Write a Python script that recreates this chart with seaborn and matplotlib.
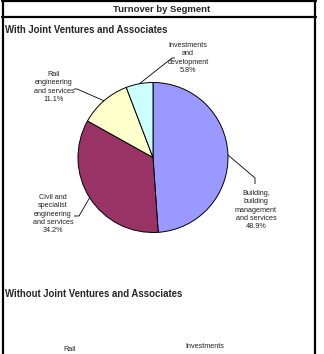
import numpy as np
import matplotlib
matplotlib.use("Agg")
import matplotlib.pyplot as plt
from matplotlib.lines import Line2D
import seaborn as sns

# ---- data ----
segments = ["Building,\nbuilding\nmanagement\nand services",
            "Civil and\nspecialist\nengineering\nand services",
            "Rail\nengineering\nand services",
            "Investments\nand\ndevelopment"]
shares = [48.9, 34.2, 11.1, 5.8]
colors = ["#9999FF", "#993366", "#FFFFCC", "#CCFFFF"]
title = "Turnover by Segment"
section1 = "With Joint Ventures and Associates"
section2 = "Without Joint Ventures and Associates"
section2_labels = ["Rail", "Investments"]

sns.set_style("white")
plt.rcParams['font.family'] = ['Liberation Sans', 'DejaVu Sans']

W, H = 324, 354
fig = plt.figure(figsize=(W / 100, H / 100), dpi=100)
fig.patch.set_facecolor("white")

def fx(px):
    return px / W

def fy(py):
    return 1 - py / H

# ---- frame ----
lw_thick = 1.6
fig.add_artist(Line2D([fx(2.8), fx(2.8)], [fy(0), fy(H + 5)], color="black", lw=lw_thick, transform=fig.transFigure))
fig.add_artist(Line2D([fx(315), fx(315)], [fy(0), fy(H + 5)], color="black", lw=lw_thick, transform=fig.transFigure))
fig.add_artist(Line2D([fx(2), fx(316)], [fy(0.8), fy(0.8)], color="black", lw=lw_thick, transform=fig.transFigure))
fig.add_artist(Line2D([fx(2), fx(316)], [fy(17.3), fy(17.3)], color="black", lw=lw_thick, transform=fig.transFigure))

fig.text(fx(162), fy(9.3), title, ha="center", va="center", fontsize=6.8, fontweight="bold")
fig.text(fx(5), fy(30), section1, ha="left", va="center", fontsize=6.9, fontweight="bold")
fig.text(fx(5), fy(294), section2, ha="left", va="center", fontsize=6.9, fontweight="bold")

# ---- pie ----
cx, cy, r = 153, 157.5, 75
ax = fig.add_axes([fx(cx - r), fy(cy + r), 2 * r / W, 2 * r / H])
wedges, _ = ax.pie(shares, colors=colors, startangle=90, counterclock=False,
                   wedgeprops=dict(edgecolor="black", linewidth=0.7), radius=1)
ax.set_xlim(-1, 1)
ax.set_ylim(-1, 1)
ax.set_aspect("auto")
ax.axis("off")

def to_data(px, py):
    return (px - cx) / r, -(py - cy) / r

# label centres (pixels) and leader tick end points (pixels)
label_pos = [(256, 210), (53, 214), (54, 87), (188, 58)]
tick_pts = [[(255, 178), (255, 184)],
            [(79, 216), (74, 216)],
            [(77, 89), (74, 89)],
            [(172, 58), (175, 58)]]

for w, lab, val, pos, ticks in zip(wedges, segments, shares, label_pos, tick_pts):
    ang = np.deg2rad((w.theta1 + w.theta2) / 2)
    ax_pt = (np.cos(ang), np.sin(ang))
    pts = [ax_pt] + [to_data(*t) for t in ticks]
    ax.plot([p[0] for p in pts], [p[1] for p in pts], color="black", lw=0.6,
            clip_on=False, solid_capstyle="butt")
    tx, ty = to_data(*pos)
    ax.text(tx, ty, f"{lab}\n{val:.1f}%", ha="center", va="center", fontsize=5.2,
            color="#222222", linespacing=1.25, clip_on=False)

# ---- second section labels (pie below visible area) ----
fig.text(fx(70), fy(349.5), section2_labels[0], ha="center", va="center", fontsize=5.2, color="#222222")
fig.text(fx(205), fy(346), section2_labels[1], ha="center", va="center", fontsize=5.2, color="#222222")

fig.savefig("out.png", dpi=100, facecolor="white")
